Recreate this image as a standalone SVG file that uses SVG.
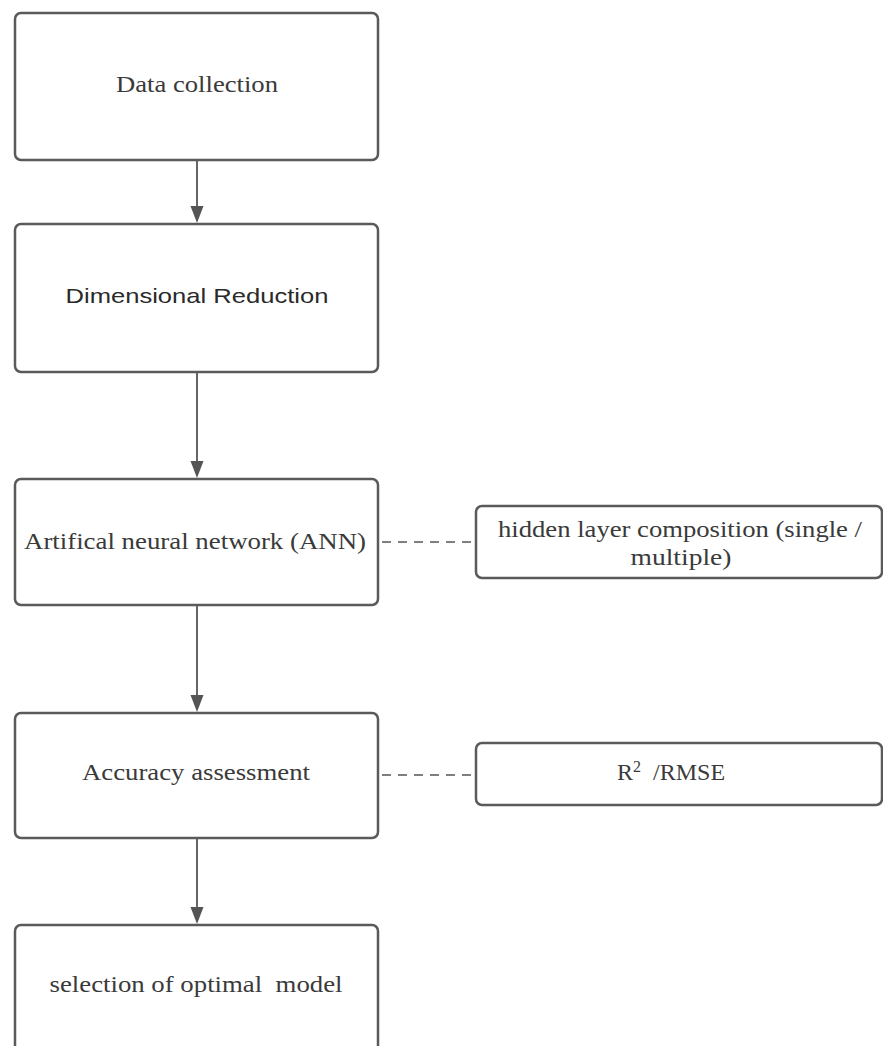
<svg xmlns="http://www.w3.org/2000/svg" width="883" height="1046" viewBox="0 0 883 1046">
<style>
.box{fill:#fff;stroke:#5a5a5a;stroke-width:2.5}
.t{font-family:"Liberation Serif",serif;font-size:24px;fill:#3a3a3a}
.s{font-family:"Liberation Sans",sans-serif;font-size:21px;fill:#2a2a2a}
.c{stroke:#666;stroke-width:2;fill:none}
.d{stroke:#555;stroke-width:1.6;fill:none;stroke-dasharray:9 7}
.a{fill:#555}
</style>
<rect width="883" height="1046" fill="#fff"/>
<g id="connectors">
<line class="c" x1="197" y1="161" x2="197" y2="210"/>
<line class="c" x1="197" y1="373" x2="197" y2="465"/>
<line class="c" x1="197" y1="606" x2="197" y2="699"/>
<line class="c" x1="197" y1="839" x2="197" y2="911"/>
<path class="a" d="M190.5 206 L203.5 206 L197 223 Z"/>
<path class="a" d="M190.5 461 L203.5 461 L197 478 Z"/>
<path class="a" d="M190.5 695 L203.5 695 L197 712 Z"/>
<path class="a" d="M190.5 907 L203.5 907 L197 924 Z"/>
<line class="d" x1="382" y1="542" x2="475" y2="542"/>
<line class="d" x1="382" y1="775" x2="475" y2="775"/>
</g>
<g id="n1">
<rect class="box" x="15" y="13" width="363" height="147" rx="6"/>
<text class="t" x="197" y="92" text-anchor="middle" textLength="162" lengthAdjust="spacingAndGlyphs">Data collection</text>
</g>
<g id="n2">
<rect class="box" x="15" y="224" width="363" height="148" rx="6"/>
<text class="s" x="197" y="303" text-anchor="middle" textLength="263" lengthAdjust="spacingAndGlyphs">Dimensional Reduction</text>
</g>
<g id="n3">
<rect class="box" x="15" y="479" width="363" height="126" rx="6"/>
<text class="t" x="195" y="549" text-anchor="middle" textLength="342" lengthAdjust="spacingAndGlyphs">Artifical neural network (ANN)</text>
</g>
<g id="n4">
<rect class="box" x="476" y="506" width="406" height="72" rx="6"/>
<text class="t" x="680" y="537" text-anchor="middle" textLength="364" lengthAdjust="spacingAndGlyphs">hidden layer composition (single /</text>
<text class="t" x="681" y="565" text-anchor="middle" textLength="101" lengthAdjust="spacingAndGlyphs">multiple)</text>
</g>
<g id="n5">
<rect class="box" x="15" y="713" width="363" height="125" rx="6"/>
<text class="t" x="196" y="780" text-anchor="middle" textLength="228" lengthAdjust="spacingAndGlyphs">Accuracy assessment</text>
</g>
<g id="n6">
<rect class="box" x="476" y="743" width="406" height="62" rx="6"/>
<text class="t" x="617" y="780" xml:space="preserve">R<tspan font-size="16" dy="-8">2</tspan><tspan dy="8">  /RMSE</tspan></text>
</g>
<g id="n7">
<rect class="box" x="15" y="925" width="363" height="140" rx="6"/>
<text class="t" x="196" y="992" text-anchor="middle" textLength="293" lengthAdjust="spacingAndGlyphs" xml:space="preserve">selection of optimal  model</text>
</g>
</svg>
